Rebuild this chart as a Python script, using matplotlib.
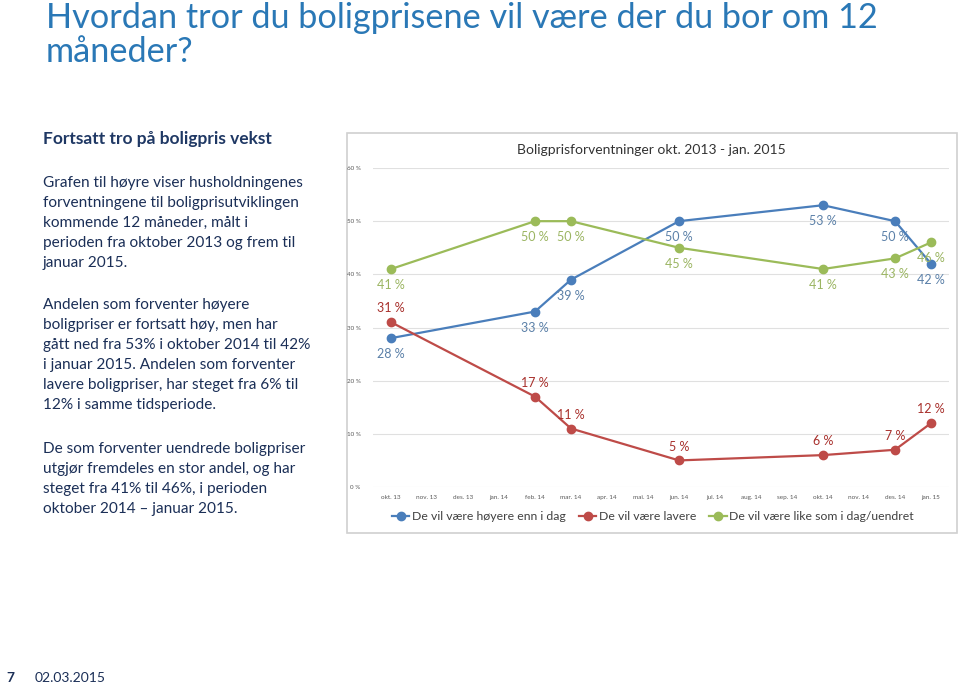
import matplotlib
matplotlib.use('Agg')
import matplotlib.pyplot as plt
from matplotlib.patches import Rectangle
from matplotlib.lines import Line2D

plt.rcParams['font.family'] = ['Lato', 'DejaVu Sans']

W, H = 960, 686

# data
months = ['okt. 13', 'nov. 13', 'des. 13', 'jan. 14', 'feb. 14', 'mar. 14', 'apr. 14', 'mai. 14',
          'jun. 14', 'jul. 14', 'aug. 14', 'sep. 14', 'okt. 14', 'nov. 14', 'des. 14', 'jan. 15']
survey_months = ['okt. 13', 'feb. 14', 'mar. 14', 'jun. 14', 'okt. 14', 'des. 14', 'jan. 15']
higher = [28, 33, 39, 50, 53, 50, 42]
lower = [31, 17, 11, 5, 6, 7, 12]
same = [41, 50, 50, 45, 41, 43, 46]
series_names = ['De vil være høyere enn i dag', 'De vil være lavere', 'De vil være like som i dag/uendret']
yticks = [0, 10, 20, 30, 40, 50, 60]

title = 'Hvordan tror du boligprisene vil være der du bor om 12\nmåneder?'
heading = 'Fortsatt tro på boligpris vekst'
para1 = ['Grafen til høyre viser husholdningenes',
         'forventningene til boligprisutviklingen',
         'kommende 12 måneder, målt i',
         'perioden fra oktober 2013 og frem til',
         'januar 2015.']
para2 = ['Andelen som forventer høyere',
         'boligpriser er fortsatt høy, men har',
         'gått ned fra 53% i oktober 2014 til 42%',
         'i januar 2015. Andelen som forventer',
         'lavere boligpriser, har steget fra 6% til',
         '12% i samme tidsperiode.']
para3 = ['De som forventer uendrede boligpriser',
         'utgjør fremdeles en stor andel, og har',
         'steget fra 41% til 46%, i perioden',
         'oktober 2014 – januar 2015.']


def fx(px):
    return px / W


def fy(py):
    return 1 - py / H


fig = plt.figure(figsize=(9.6, 6.86), dpi=100)
fig.patch.set_facecolor('white')

# venstre side, tekst
fig.text(fx(46), fy(35), title, fontsize=24.65, color='#2a78b6', ha='left', va='center',
         linespacing=1.05)
fig.text(fx(43), fy(139), heading, fontsize=12.5, fontweight='bold', color='#1f3864',
         ha='left', va='center')
txt_color = '#1b2f57'
for lines, y0 in [(para1, 183), (para2, 305), (para3, 449)]:
    for i, line in enumerate(lines):
        fig.text(fx(43), fy(y0 + i * 19.9), line, fontsize=11.1, color=txt_color,
                 ha='left', va='center')

fig.text(fx(6), fy(678), '7', fontsize=10, fontweight='bold', color='#1b2f57', va='center')
fig.text(fx(35), fy(678), '02.03.2015', fontsize=10, color='#1b2f57', va='center')

# ramme rundt grafen
frame = Rectangle((fx(347), fy(533)), fx(957) - fx(347), fy(133) - fy(533),
                  transform=fig.transFigure, facecolor='white', edgecolor='#d0d0d0', lw=1.2,
                  zorder=-5)
fig.add_artist(frame)

fig.text(fx(651), fy(150), 'Boligprisforventninger okt. 2013 - jan. 2015', fontsize=10,
         color='#333333', ha='center', va='center')

ax = fig.add_axes([fx(373), fy(487), fx(949) - fx(373), fy(168) - fy(487)])
ax.set_zorder(2)
ax.patch.set_alpha(0)
ax.set_xlim(-0.5, len(months) - 0.5)
ax.set_ylim(0, 60)
for s in ax.spines.values():
    s.set_visible(False)
ax.set_yticks(yticks)
ax.set_yticklabels([f'{v} %' for v in yticks], fontsize=4.5, color='#595959')
ax.set_xticks(range(len(months)))
ax.set_xticklabels(months, fontsize=4.6, color='#595959')
ax.tick_params(length=0, pad=6)
ax.tick_params(axis='y', pad=9)
ax.grid(axis='y', color='#e0e0e0', lw=0.8)
ax.set_axisbelow(True)

xs = [months.index(m) for m in survey_months]

line_colors = ['#4a7ebb', '#be4b48', '#9bbb59']
label_colors = ['#5b80a8', '#a8302c', '#9bb562']
series = [higher, lower, same]

for vals, lc in zip(series, line_colors):
    ax.plot(xs, vals, color=lc, lw=1.6, marker='o', ms=6, zorder=3)

# etiketter: blå og grønn under, rød over
for vals, tc, dy in [(higher, label_colors[0], -11.5), (same, label_colors[2], -11.5),
                     (lower, label_colors[1], 10)]:
    for x, v in zip(xs, vals):
        ax.annotate(f'{v} %', (x, v), xytext=(0, dy), textcoords='offset points',
                    ha='center', va='center', fontsize=9, color=tc, zorder=4)

handles = [Line2D([], [], color=c, lw=1.6, marker='o', ms=6) for c in line_colors]
fig.legend(handles, series_names, loc='center', bbox_to_anchor=(fx(653), fy(517)),
           ncol=3, frameon=False, fontsize=8.8, handlelength=1.4, handletextpad=0.2,
           columnspacing=1.1, labelcolor='#404040')

fig.savefig('out.png', dpi=100, facecolor='white')
